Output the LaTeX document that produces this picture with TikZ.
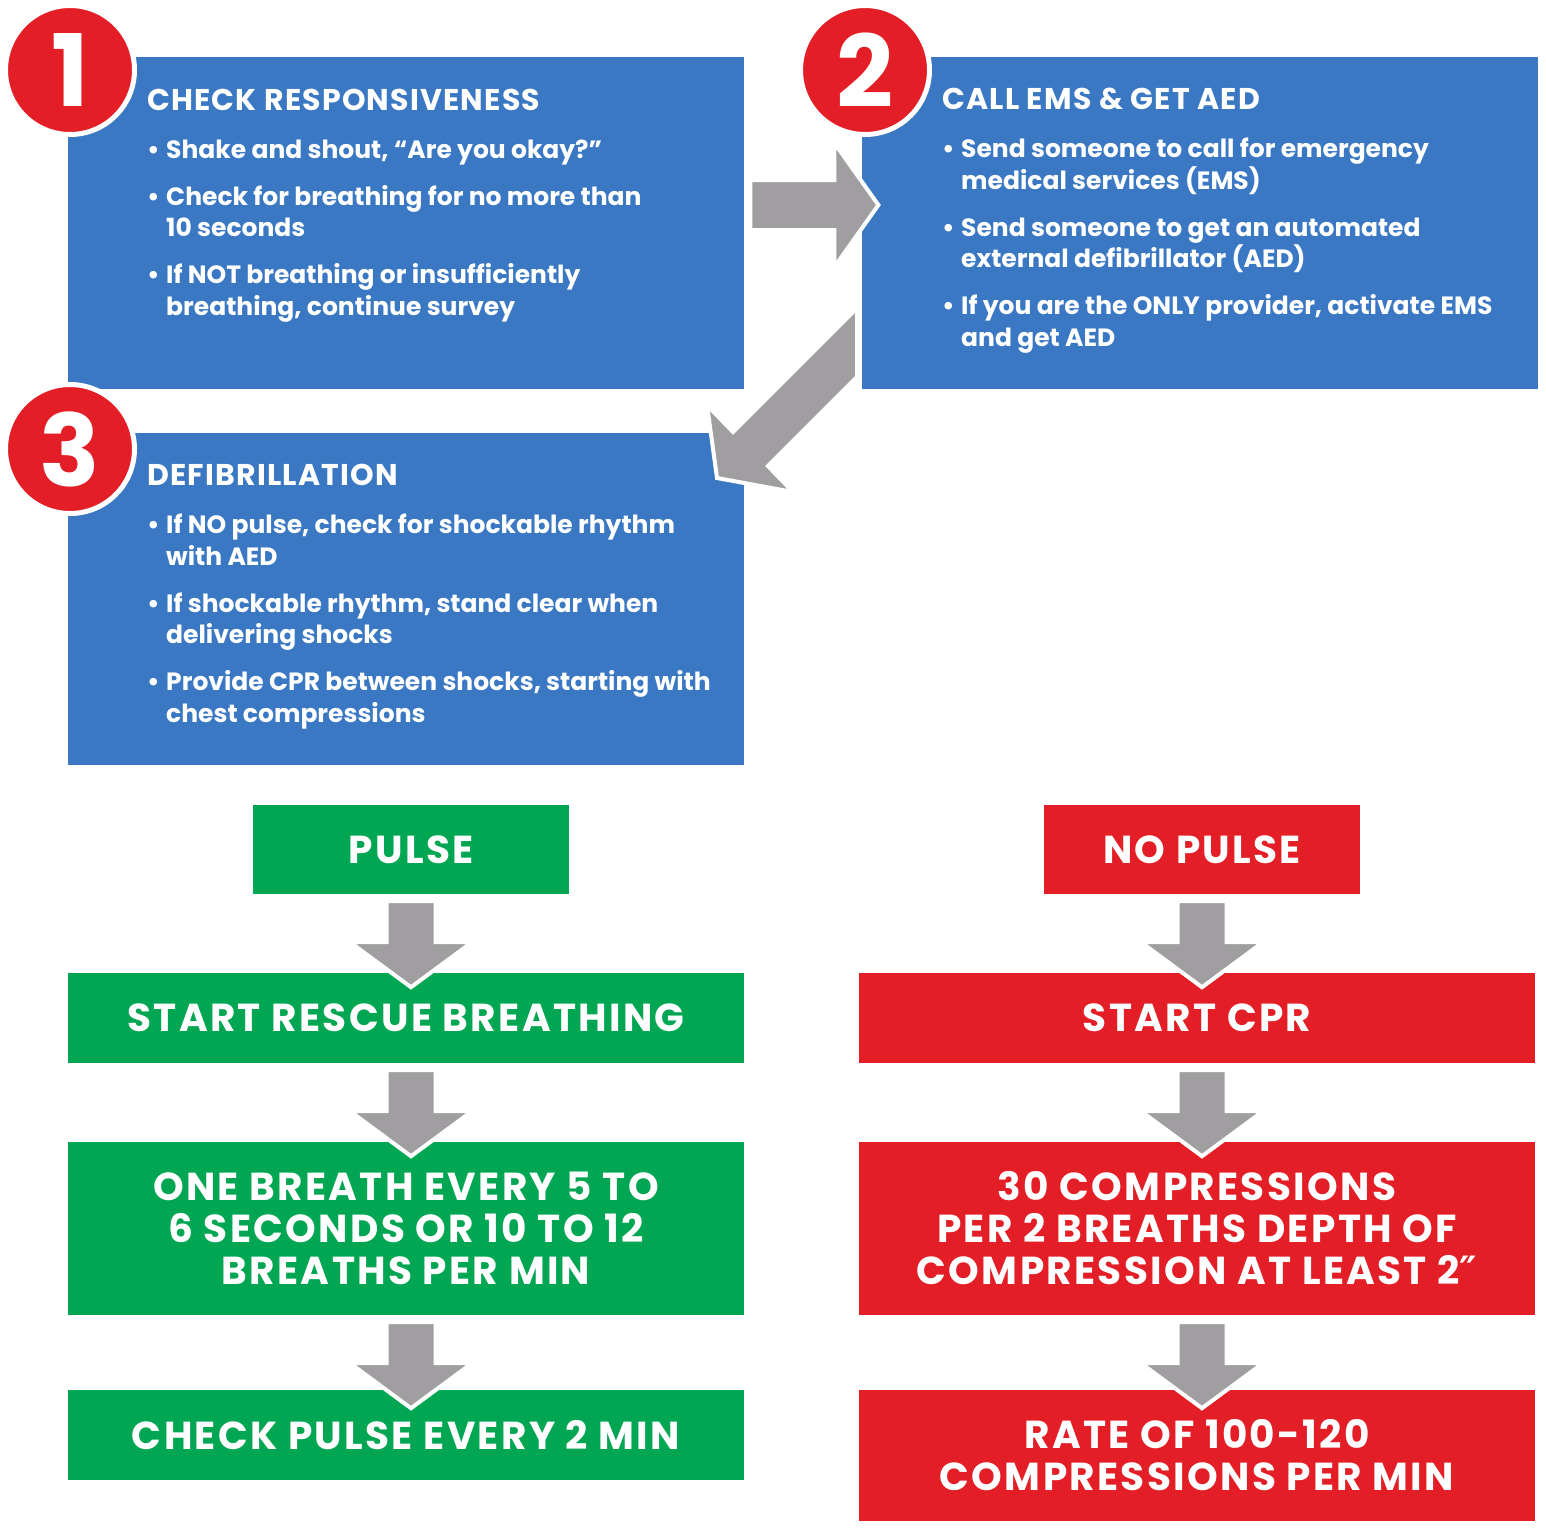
\documentclass[tikz,border=0pt]{standalone}
\usepackage{fontspec}
\setmainfont{Poppins}
\newfontfamily\primefont{DejaVu Sans}
\usetikzlibrary{calc}

\definecolor{boxblue}{HTML}{3A78C4}
\definecolor{stepred}{HTML}{E31E26}
\definecolor{gogreen}{HTML}{00A651}
\definecolor{arrowgray}{HTML}{A09EA0}

% bullet and hanging indent for the panel lists
\newcommand\bul{\makebox[19pt][l]{•}}
\newcommand\hang{\hspace*{19pt}}
% panel heading
\newcommand\heading[1]{{\fontsize{30}{31.5}\selectfont\addfontfeatures{LetterSpace=4}#1}}

% block arrow pointing down, starting at the top centre #1
\newcommand\flowarrow[1]{%
  \path[flow] #1 ++(-24.5,0) -- ++(49,0) -- ++(0,41) -- ++(36.5,0)
    -- ++(-61,45) -- ++(-61,-45) -- ++(36.5,0) -- cycle;}

\tikzset{
  panel/.style={fill=boxblue, draw=none, anchor=north west, inner sep=0pt,
    minimum width=676pt, minimum height=332pt},
  badge/.style={circle, fill=stepred, draw=white, line width=5pt,
    minimum size=129pt, inner sep=0pt, text=white,
    font=\fontsize{100}{100}\selectfont\bfseries},
  paneltext/.style={anchor=base west, align=left, text=white, inner sep=0pt,
    font=\fontsize{25}{31.5}\selectfont\bfseries},
  result/.style={draw=none, text=white, align=center, inner sep=0pt,
    font=\fontsize{39}{42}\selectfont\bfseries\addfontfeatures{LetterSpace=6}},
  gobox/.style={result, fill=gogreen},
  stopbox/.style={result, fill=stepred},
  flow/.style={fill=arrowgray, draw=white, line width=4pt, line join=miter},
}

\begin{document}
\begin{tikzpicture}[x=1pt, y=-1pt]
\useasboundingbox[fill=white] (0,0) rectangle (1546,1527);

% ---- survey panels ----
\node[panel] (b1) at (68,57) {};
\node[panel] (b2) at (862,57) {};
\node[panel] (b3) at (68,433) {};

% each text block is placed by the baseline of its last line
\node[paneltext] (t1) at ($(b1.north west)+(79,258)$) {%
  \heading{CHECK RESPONSIVENESS}\\[16.5pt]
  \bul Shake and shout, “Are you okay?”\\[15.5pt]
  \bul Check for breathing for no more than\\
  \hang 10 seconds\\[15.5pt]
  \bul If NOT breathing or insufficiently\\
  \hang breathing, continue survey};

\node[paneltext] (t2) at ($(b2.north west)+(80,289)$) {%
  \heading{CALL EMS \& GET AED}\\[16.5pt]
  \bul Send someone to call for emergency\\
  \hang medical services (EMS)\\[15.5pt]
  \bul Send someone to get an automated\\
  \hang external defibrillator (AED)\\[15.5pt]
  \bul If you are the ONLY provider, activate EMS\\
  \hang and get AED};

\node[paneltext] (t3) at ($(b3.north west)+(79,289)$) {%
  \heading{DEFIBRILLATION}\\[16.5pt]
  \bul If NO pulse, check for shockable rhythm\\
  \hang with AED\\[15.5pt]
  \bul If shockable rhythm, stand clear when\\
  \hang delivering shocks\\[15.5pt]
  \bul Provide CPR between shocks, starting with\\
  \hang chest compressions};

% ---- arrows between panels ----
\path[flow] ($(b1.north east)+(6,123)$) -- ++(84,0) -- ++(0,-37) -- ++(44,62)
  -- ++(-44,62) -- ++(0,-37) -- ++(-84,0) -- cycle;
\path[flow] ($(b2.north west)+(-5,251)$) -- ++(0,69) -- ++(-89,89) -- ++(25,26)
  -- ++(-76,-14) -- ++(-10,-73) -- ++(26,27) -- cycle;

% ---- step badges ----
\node[badge] (n1) at (70,70) {1};
\node[badge] (n2) at (865,70) {2};
\node[badge] (n3) at (70,449) {3};

% ---- pulse branch ----
\node[gobox, minimum width=316pt, minimum height=89pt] (pulse) at (411,849.5) {PULSE};
\node[gobox, minimum width=676pt, minimum height=90pt] (rescue) at (406,1018) {START RESCUE BREATHING};
\node[gobox, minimum width=676pt, minimum height=173pt] (breath) at (406,1228.5)
  {ONE BREATH EVERY 5 TO\\6 SECONDS OR 10 TO 12\\BREATHS PER MIN};
\node[gobox, minimum width=676pt, minimum height=90pt] (recheck) at (406,1435) {CHECK PULSE EVERY 2 MIN};

% ---- no pulse branch ----
\node[stopbox, minimum width=316pt, minimum height=89pt] (nopulse) at (1202,849.5) {NO PULSE};
\node[stopbox, minimum width=676pt, minimum height=90pt] (cpr) at (1197,1018) {START CPR};
\node[stopbox, minimum width=676pt, minimum height=173pt] (comp) at (1197,1228.5)
  {30 COMPRESSIONS\\PER 2 BREATHS DEPTH OF\\COMPRESSION AT LEAST 2{\primefont\bfseries ″}};
\node[stopbox, minimum width=676pt, minimum height=131pt] (rate) at (1197,1455.5)
  {RATE OF 100-120\\COMPRESSIONS PER MIN};

% ---- down arrows ----
\flowarrow{($(pulse.south)+(0,7)$)}
\flowarrow{($(pulse.south |- rescue.south)+(0,7)$)}
\flowarrow{($(pulse.south |- breath.south)+(0,7)$)}
\flowarrow{($(nopulse.south)+(0,7)$)}
\flowarrow{($(nopulse.south |- cpr.south)+(0,7)$)}
\flowarrow{($(nopulse.south |- comp.south)+(0,7)$)}
\end{tikzpicture}
\end{document}
